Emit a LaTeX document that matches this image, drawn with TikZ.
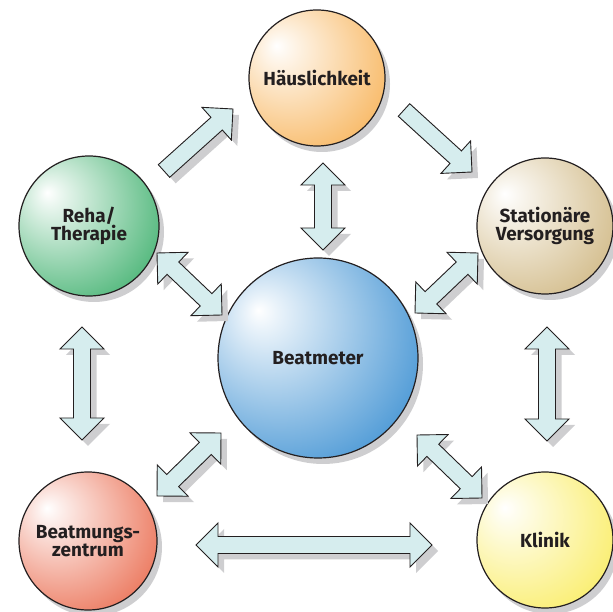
\documentclass[tikz,border=0pt]{standalone}
\usepackage{fontspec}
\setmainfont{Fira Sans}
\usetikzlibrary{calc,shadows}

\definecolor{hauscol}{RGB}{248,186,104}
\definecolor{rehacol}{RGB}{82,184,124}
\definecolor{statcol}{RGB}{212,190,142}
\definecolor{beatcol}{RGB}{78,154,214}
\definecolor{zentcol}{RGB}{236,122,96}
\definecolor{klincol}{RGB}{250,238,112}
\definecolor{arrcol}{RGB}{214,237,238}
\definecolor{shadowcol}{RGB}{206,206,208}
\definecolor{txtcol}{RGB}{35,31,32}

\newcommand{\ballshade}[2]{\pgfdeclareradialshading{#1}{\pgfpoint{-15bp}{12bp}}{%
  color(0bp)=(white); color(4bp)=(white!88!#2); color(36bp)=(#2); color(70bp)=(#2!90!black)}}
\ballshade{haus}{hauscol}
\ballshade{reha}{rehacol}
\ballshade{stat}{statcol}
\ballshade{beat}{beatcol}
\ballshade{zent}{zentcol}
\ballshade{klin}{klincol}

\tikzset{
  place/.style={circle, draw=txtcol, line width=1.2bp, minimum size=#1, inner sep=0pt,
    font=\fontsize{19}{18}\selectfont\bfseries, text=txtcol, align=center,
    drop shadow={shadow xshift=5bp, shadow yshift=-6bp, fill=shadowcol, opacity=1}},
  arrbody/.style={draw=txtcol, line width=0.9bp, fill=arrcol, line join=miter},
  arrshadow/.style={fill=shadowcol, transform canvas={shift={(6bp,-6bp)}}},
}

\newcommand{\dblarrowpath}[3][]{%
  \path[#1] (#2) -- ($(#2h)!22bp!90:(#3)$) -- ($(#2h)!8.5bp!90:(#3)$)
    -- ($(#3h)!8.5bp!-90:(#2)$) -- ($(#3h)!22bp!-90:(#2)$) -- (#3)
    -- ($(#3h)!22bp!90:(#2)$) -- ($(#3h)!8.5bp!90:(#2)$)
    -- ($(#2h)!8.5bp!-90:(#3)$) -- ($(#2h)!22bp!-90:(#3)$) -- cycle;}
\newcommand{\dblarrow}[2]{%
  \coordinate (#1h) at ($(#1)!22bp!(#2)$);
  \coordinate (#2h) at ($(#2)!22bp!(#1)$);
  \dblarrowpath[arrshadow]{#1}{#2}\dblarrowpath[arrbody]{#1}{#2}}

\newcommand{\sglarrowpath}[3][]{%
  \path[#1] ($(#2)!8.5bp!90:(#3)$) -- ($(#3h)!8.5bp!-90:(#2)$) -- ($(#3h)!22bp!-90:(#2)$)
    -- (#3) -- ($(#3h)!22bp!90:(#2)$) -- ($(#3h)!8.5bp!90:(#2)$)
    -- ($(#2)!8.5bp!-90:(#3)$) -- cycle;}
\newcommand{\sglarrow}[2]{%
  \coordinate (#2h) at ($(#2)!22bp!(#1)$);
  \sglarrowpath[arrshadow]{#1}{#2}\sglarrowpath[arrbody]{#1}{#2}}

\begin{document}
\begin{tikzpicture}[x=1bp,y=1bp]
  \useasboundingbox (0,0) rectangle (613,612);

  \node[place=136bp, shading=haus] (haus) at (317,534) {Häuslichkeit};
  \node[place=140bp, shading=reha] (reha) at (89,386) {Reha/\\Therapie};
  \node[place=136bp, shading=stat] (stat) at (545,386) {Stationäre\\Versorgung};
  \node[place=200bp, shading=beat] (beat) at (318,254) {Beatmeter};
  \node[place=138bp, shading=zent] (zent) at (88,71) {Beatmungs-\\zentrum};
  \node[place=136bp, shading=klin] (klin) at (545,72) {Klinik};

  \coordinate (rh1) at (164,441);  \coordinate (rh2) at (233,503);
  \coordinate (hs1) at (404,502);  \coordinate (hs2) at (472,440);
  \coordinate (hb1) at (323,449);  \coordinate (hb2) at (323,362);
  \coordinate (rb1) at (157,359);  \coordinate (rb2) at (222,297);
  \coordinate (sb1) at (478,359);  \coordinate (sb2) at (415,299);
  \coordinate (rz1) at (82,285);   \coordinate (rz2) at (82,172);
  \coordinate (sk1) at (547,285);  \coordinate (sk2) at (547,171);
  \coordinate (zb1) at (157,116);  \coordinate (zb2) at (221,179);
  \coordinate (bk1) at (417,177);  \coordinate (bk2) at (482,114);
  \coordinate (zk1) at (196,67);   \coordinate (zk2) at (432,67);

  \sglarrow{rh1}{rh2}
  \sglarrow{hs1}{hs2}
  \dblarrow{hb1}{hb2}
  \dblarrow{rb1}{rb2}
  \dblarrow{sb1}{sb2}
  \dblarrow{rz1}{rz2}
  \dblarrow{sk1}{sk2}
  \dblarrow{zb1}{zb2}
  \dblarrow{bk1}{bk2}
  \dblarrow{zk1}{zk2}
\end{tikzpicture}
\end{document}
